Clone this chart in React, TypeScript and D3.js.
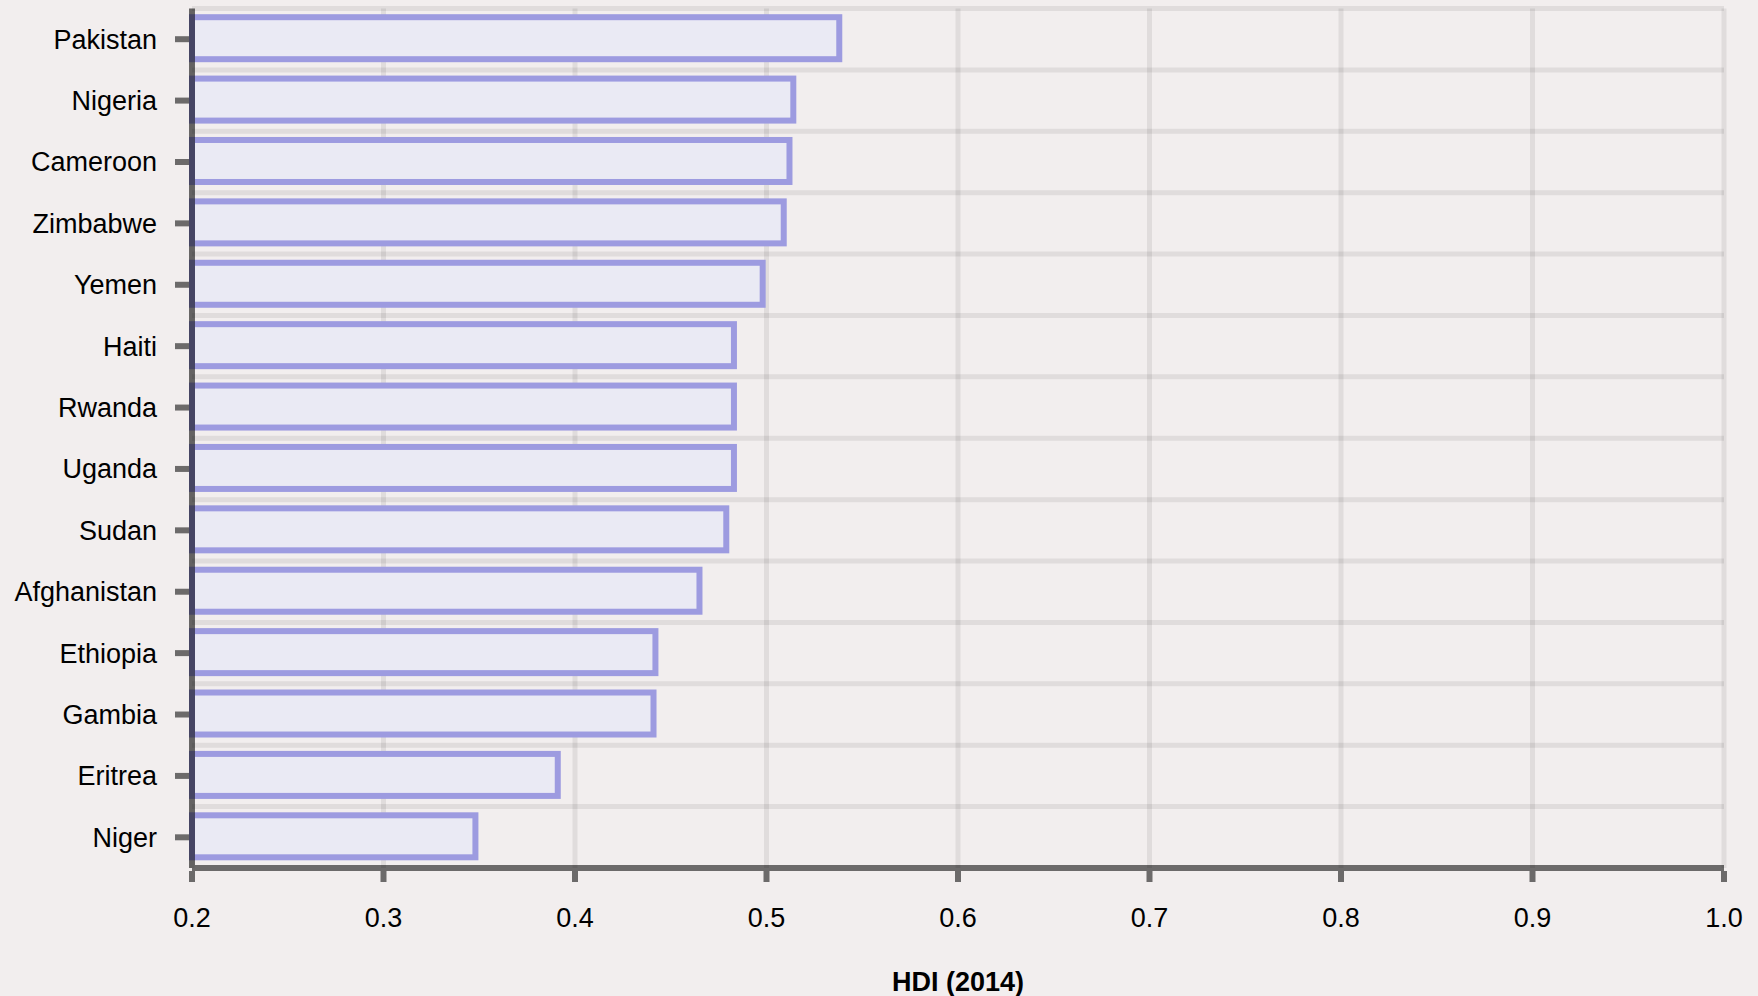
import * as d3 from 'd3'

const countries = [
  'Pakistan', 'Nigeria', 'Cameroon', 'Zimbabwe', 'Yemen', 'Haiti', 'Rwanda',
  'Uganda', 'Sudan', 'Afghanistan', 'Ethiopia', 'Gambia', 'Eritrea', 'Niger',
]
const hdi = [
  0.538, 0.514, 0.512, 0.509, 0.498, 0.483, 0.483,
  0.483, 0.479, 0.465, 0.442, 0.441, 0.391, 0.348,
]
const xTicks = [0.2, 0.3, 0.4, 0.5, 0.6, 0.7, 0.8, 0.9, 1.0]
const xLabel = 'HDI (2014)'

const W = 1758
const H = 996
const font = '"Liberation Sans", Arial, sans-serif'

export default function App() {
  const margin = { top: 8.5, right: 34, bottom: 128, left: 192 }
  const x = d3.scaleLinear().domain([0.2, 1.0]).range([margin.left, W - margin.right])
  const y = d3.scaleBand().domain(countries).range([margin.top, H - margin.bottom])
  const step = y.step()
  const barH = 42
  const barOff = (step - barH) / 2 - 1
  const x0 = x(0.2)
  const x1 = x(1.0)
  const yTop = margin.top
  const yBot = H - margin.bottom

  return (
    <div style={{ position: 'absolute', left: 0, top: 0 }}>
      <svg width={W} height={H} style={{ display: 'block' }}>
        <rect width={W} height={H} fill="#f2eeee" />

        {/* grid */}
        <g stroke="#000" strokeOpacity={0.075} strokeWidth={5}>
          {xTicks.map(t => (
            <line key={'gx' + t} x1={x(t)} x2={x(t)} y1={yTop} y2={yBot} />
          ))}
          {countries.map(c => (
            <line key={'gy' + c} x1={x0} x2={x1} y1={y(c)} y2={y(c)} />
          ))}
        </g>

        {/* bars */}
        {countries.map((c, i) => (
          <rect
            key={c}
            x={x0}
            y={y(c) + barOff}
            width={x(hdi[i]) - x0}
            height={barH}
            fill="#eaeaf4"
            stroke="#9d9be0"
            strokeWidth={6}
          />
        ))}

        {/* axes */}
        <g opacity={0.55} stroke="#000" strokeWidth={6}>
          <line x1={x0} x2={x0} y1={yTop} y2={yBot} />
          <line x1={x0} x2={x1} y1={yBot} y2={yBot} />
          {countries.map(c => (
            <line key={'ty' + c} x1={x0 - 17} x2={x0 - 3} y1={y(c) + step / 2} y2={y(c) + step / 2} />
          ))}
          {xTicks.map(t => (
            <line key={'tx' + t} x1={x(t)} x2={x(t)} y1={yBot + 3} y2={yBot + 14} />
          ))}
        </g>

        {/* labels */}
        <g fontFamily={font} fontSize={27} fill="#000">
          {countries.map(c => (
            <text key={'ly' + c} x={157} y={y(c) + step / 2} dy="0.35em" textAnchor="end">
              {c}
            </text>
          ))}
          {xTicks.map(t => (
            <text key={'lx' + t} x={x(t)} y={927} textAnchor="middle">
              {t.toFixed(1)}
            </text>
          ))}
          <text x={(x0 + x1) / 2} y={991} textAnchor="middle" fontWeight="bold">
            {xLabel}
          </text>
        </g>
      </svg>
    </div>
  )
}
